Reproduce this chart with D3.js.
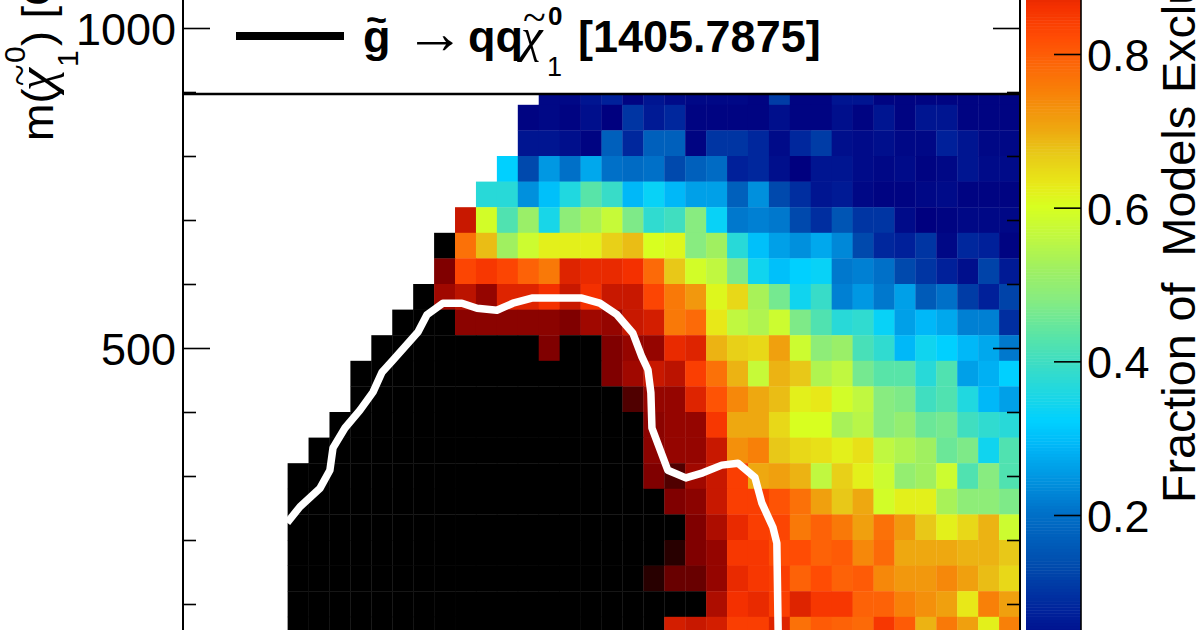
<!DOCTYPE html>
<html>
<head>
<meta charset="utf-8">
<script src="https://cdn.jsdelivr.net/npm/d3@7"></script>
<style>
  html, body { margin: 0; padding: 0; background: #fff; overflow: hidden; }
  text { font-family: "Liberation Sans", Arial, sans-serif; fill: #000; white-space: pre; }
</style>
</head>
<body>
<div id="chart"></div>
<script>
const n = null;

// lower edge of each neutralino mass bin, GeV
const massBins = [880, 840, 800, 760, 720, 680, 640, 600, 560, 520, 480, 440, 400, 360, 320, 280, 240, 200, 160, 120, 80, 40];

// gluino bins 5..39 are the ones with content
const firstBin = 5;

const row880 = [n,n,n,n,n,n,n,n,n,n,n,n,.02,.02,.05,.07,.01,.05,.03,.02,.02,.02,.01,.11,.01,.01,.05,.05,.01,.01,.01,.01,.01,.01,.01];
const row840 = [n,n,n,n,n,n,n,n,n,n,n,.01,.02,.01,.04,0,.1,.06,.08,.01,.01,.01,.01,.04,.01,.01,.04,.01,.05,.01,.05,.05,.01,.01,.01];
const row800 = [n,n,n,n,n,n,n,n,n,n,n,.05,.05,.04,.01,.17,.08,.17,.17,.01,.1,.1,.08,.03,.08,.11,.04,.03,.04,.02,.02,.07,.05,.02,.02];
const row760 = [n,n,n,n,n,n,n,n,n,n,.32,.13,.25,.2,.27,.2,.19,.2,.13,.17,.19,.07,.08,.04,0,.05,.05,.03,.02,.03,.01,.02,.05,.03,.03];
const row720 = [n,n,n,n,n,n,n,n,n,.37,.37,.24,.3,.36,.43,.39,.29,.33,.29,.26,.26,.17,.24,.13,.09,.05,.06,.02,.01,.01,.02,.03,.01,.01,.01];
const row680 = [n,n,n,n,n,n,n,n,.9,.59,.42,.51,.35,.49,.53,.57,.47,.38,.4,.48,.33,.21,.22,.21,.13,.09,.15,.1,.1,.03,0,.01,.02,.02,.02];
const row640 = [n,n,n,n,n,n,n,1,.77,.68,.52,.58,.62,.62,.62,.66,.68,.6,.61,.48,.52,.37,.3,.26,.24,.27,.23,.13,.08,.07,.1,.02,.08,.07,.01];
const row600 = [n,n,n,n,n,n,n,.96,.83,.85,.83,.79,.76,.88,.87,.87,.86,.78,.67,.59,.56,.47,.34,.3,.32,.33,.21,.22,.2,.13,.1,.07,.04,.12,.06];
const row560 = [n,n,n,n,n,n,1,.93,.91,.94,.88,.88,.86,.9,.86,.9,.9,.83,.76,.72,.61,.65,.53,.46,.34,.39,.22,.25,.21,.26,.16,.2,.11,.07,.12];
const row520 = [n,n,n,n,n,1,1,1,.95,.95,.95,.95,.95,.96,.93,.94,.9,.89,.76,.78,.63,.56,.54,.58,.47,.42,.37,.38,.33,.26,.29,.27,.22,.22,.09];
const row480 = [n,n,n,n,1,1,1,1,1,1,1,1,.96,1,1,.96,.94,.94,.87,.88,.69,.66,.65,.71,.58,.49,.51,.41,.38,.29,.34,.32,.29,.27,.21];
const row440 = [n,n,n,1,1,1,1,1,1,1,1,1,1,1,1,.96,.93,.9,.91,.84,.77,.69,.57,.69,.67,.54,.56,.46,.43,.43,.37,.42,.26,.28,.32];
const row400 = [n,n,n,1,1,1,1,1,1,1,1,1,1,1,1,1,.98,.94,.94,.88,.81,.74,.7,.68,.62,.63,.59,.56,.48,.47,.4,.42,.36,.29,.26];
const row360 = [n,n,1,1,1,1,1,1,1,1,1,1,1,1,1,1,1,.95,.94,.94,.85,.7,.7,.65,.6,.6,.53,.55,.48,.5,.45,.46,.4,.38,.37];
const row320 = [n,1,1,1,1,1,1,1,1,1,1,1,1,1,1,1,1,.95,.94,.94,.9,.73,.75,.67,.65,.64,.62,.64,.56,.54,.52,.45,.47,.34,.42];
const row280 = [1,1,1,1,1,1,1,1,1,1,1,1,1,1,1,1,1,.96,.98,.93,.9,.84,.7,.71,.69,.56,.66,.62,.58,.5,.52,.58,.42,.48,.42];
const row240 = [1,1,1,1,1,1,1,1,1,1,1,1,1,1,1,1,1,1,.96,.95,.9,.84,.84,.81,.77,.71,.67,.7,.59,.62,.62,.53,.49,.49,.47];
const row200 = [1,1,1,1,1,1,1,1,1,1,1,1,1,1,1,1,1,1,1,.96,.92,.87,.84,.83,.76,.79,.76,.71,.77,.72,.67,.62,.65,.69,.58];
const row160 = [1,1,1,1,1,1,1,1,1,1,1,1,1,1,1,1,1,1,.99,.96,.94,.85,.85,.82,.82,.79,.8,.74,.78,.7,.7,.7,.69,.69,.67];
const row120 = [1,1,1,1,1,1,1,1,1,1,1,1,1,1,1,1,1,.99,.97,.97,.94,.87,.85,.84,.79,.82,.79,.8,.74,.72,.72,.74,.71,.68,.65];
const row80  = [1,1,1,1,1,1,1,1,1,1,1,1,1,1,1,1,1,1,1,1,.92,.86,.87,.84,.88,.85,.85,.79,.79,.75,.73,.71,.63,.75,.71];
const row40  = [1,1,1,1,1,1,1,1,1,1,1,1,1,1,1,1,1,1,.89,.9,.89,.84,.84,.88,.77,.8,.79,.78,.85,.8,.69,.76,.71,.62,.75];

const fractionRows = [row880, row840, row800, row760, row720, row680, row640, row600, row560, row520, row480,
  row440, row400, row360, row320, row280, row240, row200, row160, row120, row80, row40];

// white limit contour: gluino bin position, neutralino mass
const limitBin = [4.98,5.59,6.55,7.02,7.17,7.74,8.46,9.08,9.51,10.03,11.23,11.66,12.42,13.33,14.05,15,15.77,16.67,19.06,19.92,20.74,21.5,21.93,22.22,22.36,22.41,23.17,24.03,24.84,25.75,26.52,27.33,27.66,28.19,28.38,28.45];
const limitMass = [227,252,281,309,344,375,403,431,462,481,525,552,570,570,562,559,570,578,578,570,552,523,486,466,430,375,309,297,305,317,320,298,258,220,195,40];

const massMajorTicks = [500, 1000];
const massMinorTicks = [100, 200, 300, 400, 600, 700, 800, 900];
const fractionTicks = [0.2, 0.4, 0.6, 0.8];

const paletteStops = [0, .04, .07, .11, .14, .17, .2, .23, .26, .29, .32, .36, .39, .43, .48, .52, .56, .6, .63, .67, .7, .75, .78, .82, .86, .9, .93, .96, .98, 1];
const paletteColors = ['#00007f','#000f8c','#00209a','#003ca6','#0050b0','#0060bc','#0070c8','#0088d8','#00a0e8','#00b8f8','#00d0ff','#20d8e0','#38dcc8','#58e4a8','#88ec80','#a0f060','#c0f840','#d8ff20','#e8e818','#e8c818','#eea810','#f88008','#fc6a08','#ff4c04','#f43000','#c81800','#a00800','#800000','#500000','#000000'];

const width = 1200;
const height = 630;
const frame = { left: 183, right: 1020, legendBottom: 94 };
const bar = { left: 1026, right: 1081 };

const svg = d3.select('#chart')
  .append('svg')
  .attr('width', width)
  .attr('height', height)
  .attr('viewBox', `0 0 ${width} ${height}`)
  .style('display', 'block');

const x = d3.scaleLinear().domain([0, 40]).range([frame.left, frame.right]);
const y = d3.scaleLinear().domain([500, 1000]).range([348, 28]);
const barY = d3.scaleLinear().domain([0.2, 0.8]).range([515, 54]);
const color = d3.scaleLinear().domain(paletteStops).range(paletteColors);

svg.append('clipPath').attr('id', 'plot')
  .append('rect')
  .attr('x', frame.left).attr('y', frame.legendBottom)
  .attr('width', frame.right - frame.left).attr('height', height - frame.legendBottom);

const plot = svg.append('g').attr('clip-path', 'url(#plot)');

const cells = fractionRows.flatMap((row, r) =>
  row.map((v, i) => ({ mass: massBins[r], bin: firstBin + i, v })).filter(d => d.v !== null));

// small overlap so the page white doesn't bleed through between cells
plot.selectAll('.cell')
  .data(cells)
  .enter()
  .append('rect')
  .attr('class', 'cell')
  .attr('x', d => x(d.bin))
  .attr('y', d => y(d.mass + 40))
  .attr('width', d => x(d.bin + 1) - x(d.bin) + 0.35)
  .attr('height', d => y(d.mass) - y(d.mass + 40) + 0.35)
  .attr('fill', d => color(d.v));

const limitLine = d3.line().x(d => x(d[0])).y(d => y(d[1])).curve(d3.curveLinear);
plot.append('path')
  .datum(d3.zip(limitBin, limitMass))
  .attr('d', limitLine)
  .attr('fill', 'none')
  .attr('stroke', '#fff')
  .attr('stroke-width', 7.5)
  .attr('stroke-linejoin', 'round');

// frame
svg.append('line').attr('x1', frame.left).attr('x2', frame.right + 1).attr('y1', frame.legendBottom).attr('y2', frame.legendBottom)
  .attr('stroke', '#000').attr('stroke-width', 2.5);

function styleAxis(g) {
  g.select('.domain').attr('stroke', '#000').attr('stroke-width', 2);
  g.selectAll('.tick line').attr('stroke', '#000').attr('stroke-width', 1.6);
  g.selectAll('.tick text').attr('dy', '0.37em').style('font-size', '45px').style('font-family', '"Liberation Sans", Arial, sans-serif');
}

const leftMajor = svg.append('g').attr('transform', `translate(${frame.left},0)`)
  .call(d3.axisLeft(y).tickValues(massMajorTicks).tickSize(-27).tickSizeOuter(0).tickPadding(7).tickFormat(d3.format('d')));
styleAxis(leftMajor);
leftMajor.select('.domain').attr('d', `M0,0V${height}`);

const leftMinor = svg.append('g').attr('transform', `translate(${frame.left},0)`)
  .call(d3.axisLeft(y).tickValues(massMinorTicks).tickSize(-13).tickSizeOuter(0).tickFormat(''));
styleAxis(leftMinor);
leftMinor.select('.domain').remove();

const rightMajor = svg.append('g').attr('transform', `translate(${frame.right},0)`)
  .call(d3.axisRight(y).tickValues(massMajorTicks).tickSize(-27).tickSizeOuter(0).tickFormat(''));
styleAxis(rightMajor);
rightMajor.select('.domain').attr('d', `M0,0V${height}`);

const rightMinor = svg.append('g').attr('transform', `translate(${frame.right},0)`)
  .call(d3.axisRight(y).tickValues(massMinorTicks).tickSize(-13).tickSizeOuter(0).tickFormat(''));
styleAxis(rightMinor);
rightMinor.select('.domain').remove();

// colour bar, banded like the original palette
const bandEdges = d3.range(0, 1, 1 / 250);
svg.append('g').selectAll('rect')
  .data(bandEdges)
  .enter()
  .append('rect')
  .attr('x', bar.left)
  .attr('width', bar.right - bar.left)
  .attr('y', d => barY(d + 1 / 250))
  .attr('height', d => barY(d) - barY(d + 1 / 250) + 0.5)
  .attr('fill', d => color(d));

const barAxis = svg.append('g').attr('transform', `translate(${bar.right},0)`)
  .call(d3.axisRight(barY).tickValues(fractionTicks).tickSize(-27).tickSizeOuter(0).tickPadding(6).tickFormat(d3.format('.1f')));
styleAxis(barAxis);
barAxis.select('.domain').attr('d', `M0,0V${height}`).attr('stroke-width', 1.6);

// right title
svg.append('text')
  .attr('transform', 'translate(1195,503) rotate(-90)')
  .style('font-size', '46.7px')
  .text('Fraction of  Models Excluded');

// left title
const yTitle = svg.append('g').attr('transform', 'translate(53,141) rotate(-90)');
yTitle.append('text').attr('x', 0).attr('y', 0).style('font-size', '45px').text('m(');
yTitle.append('text').attr('x', 50).attr('y', 0).style('font-size', '52px').style('font-family', '"Liberation Serif", serif').style('font-style', 'italic').text('χ');
yTitle.append('text').attr('x', 55).attr('y', -20).style('font-size', '40px').style('font-family', '"Liberation Serif", serif').text('~');
yTitle.append('text').attr('x', 74).attr('y', 25).style('font-size', '30px').text('1');
yTitle.append('text').attr('x', 78).attr('y', -28).style('font-size', '30px').text('0');
yTitle.append('text').attr('x', 95).attr('y', 0).style('font-size', '45px').text(') [GeV]');

// legend
svg.append('line').attr('x1', 236).attr('x2', 344).attr('y1', 36).attr('y2', 36).attr('stroke', '#000').attr('stroke-width', 8);
const legend = svg.append('g').style('font-weight', 'bold').style('font-size', '45px');
legend.append('text').attr('x', 363).attr('y', 52).text('g');
legend.append('text').attr('x', 366).attr('y', 32).style('font-size', '36px').text('~');
legend.append('text').attr('x', 405).attr('y', 53).style('font-weight', 'normal').style('font-size', '60px').text('→');
legend.append('text').attr('x', 468).attr('y', 52).text('qq');
legend.append('text').attr('x', 521).attr('y', 52).style('font-family', '"Liberation Serif", serif').style('font-style', 'italic').style('font-weight', 'normal').style('font-size', '49px').text('χ');
legend.append('text').attr('x', 523).attr('y', 31).style('font-family', '"Liberation Serif", serif').style('font-weight', 'normal').style('font-size', '42px').text('~');
legend.append('text').attr('x', 548).attr('y', 25).style('font-size', '26px').text('0');
legend.append('text').attr('x', 547).attr('y', 76).style('font-weight', 'normal').style('font-size', '27px').text('1');
legend.append('text').attr('x', 578).attr('y', 52).text('[1405.7875]');
</script>
</body>
</html>
